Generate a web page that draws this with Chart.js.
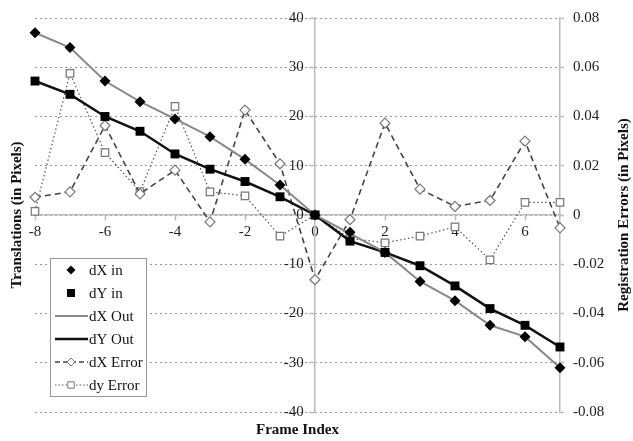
<!DOCTYPE html>
<html lang="en">
<head>
<meta charset="UTF-8">
<title>Translations and Registration Errors</title>
<script src="https://cdn.jsdelivr.net/npm/chart.js"></script>
<style>
  html, body { margin: 0; padding: 0; background: #fff; }
  canvas { display: block; }
</style>
</head>
<body>
<canvas id="chart" width="633" height="441"></canvas>
<script>
// frame indices
const frames = [-8, -7, -6, -5, -4, -3, -2, -1, 0, 1, 2, 3, 4, 5, 6, 7];

// translations (pixels), left axis
const dxIn  = [37.0, 34.0, 27.2, 23.0, 19.5, 15.9, 11.3, 6.1, 0, -3.5, -7.6, -13.5, -17.4, -22.4, -24.7, -31.0];
const dyIn  = [27.2, 24.5, 20.0, 17.0, 12.4, 9.3, 6.8, 3.7, 0, -5.3, -7.6, -10.3, -14.4, -19.0, -22.4, -26.8];
const dxOut = [37.0, 34.0, 27.2, 23.0, 19.5, 15.9, 11.3, 6.1, 0, -3.8, -7.6, -13.5, -17.4, -22.4, -24.7, -31.0];
const dyOut = [27.2, 24.5, 20.0, 17.0, 12.4, 9.3, 6.8, 3.7, 0, -5.3, -7.6, -10.3, -14.4, -19.0, -22.4, -26.8];

// registration errors (pixels), right axis
const dxErr = [0.0072, 0.0094, 0.0363, 0.0086, 0.0182, -0.0028, 0.0426, 0.0208, -0.0263, -0.0019, 0.0373, 0.0105, 0.0035, 0.0059, 0.0300, -0.0052];
const dyErr = [0.0015, 0.0575, 0.0253, 0.0095, 0.0441, 0.0094, 0.0078, -0.0086, 0, -0.0095, -0.0113, -0.0086, -0.0048, -0.0182, 0.0051, 0.0051];

const serif = "'Liberation Serif', 'Times New Roman', serif";
Chart.defaults.font.family = serif;
Chart.defaults.color = '#222';

const pts = arr => arr.map((v, i) => ({ x: frames[i], y: v }));

// legend drawn inside the plot, lower left
const legendItems = [
  { label: 'dX in',    marker: 'diamondFill' },
  { label: 'dY in',    marker: 'squareFill' },
  { label: 'dX Out',   line: '#888', width: 2, dash: [] },
  { label: 'dY Out',   line: '#111', width: 2.5, dash: [] },
  { label: 'dX Error', line: '#444', width: 1.5, dash: [5, 3], marker: 'diamondOpen' },
  { label: 'dy Error', line: '#555', width: 1.2, dash: [1.5, 2], marker: 'squareOpen' }
];

const insideLegend = {
  id: 'insideLegend',
  afterDraw(chart) {
    const ctx = chart.ctx;
    ctx.save();
    ctx.fillStyle = '#fff';
    ctx.fillRect(50, 258, 97, 139);
    ctx.strokeStyle = '#999';
    ctx.lineWidth = 1;
    ctx.strokeRect(50.5, 258.5, 96, 138);
    legendItems.forEach((it, i) => {
      const cy = 270 + i * 23;
      if (it.line) {
        ctx.beginPath();
        ctx.setLineDash(it.dash);
        ctx.strokeStyle = it.line;
        ctx.lineWidth = it.width;
        ctx.moveTo(55, cy);
        ctx.lineTo(88, cy);
        ctx.stroke();
        ctx.setLineDash([]);
      }
      if (it.marker) {
        ctx.beginPath();
        const open = it.marker.endsWith('Open');
        if (it.marker.startsWith('diamond')) {
          const r = open ? 4 : 4.5;
          ctx.moveTo(71, cy - r); ctx.lineTo(71 + r, cy); ctx.lineTo(71, cy + r); ctx.lineTo(71 - r, cy); ctx.closePath();
        } else {
          const s = open ? 3.2 : 4;
          ctx.rect(71 - s, cy - s, 2 * s, 2 * s);
        }
        if (open) {
          ctx.fillStyle = '#fff'; ctx.fill();
          ctx.strokeStyle = '#777'; ctx.lineWidth = 1; ctx.stroke();
        } else {
          ctx.fillStyle = '#000'; ctx.fill();
        }
      }
      ctx.fillStyle = '#111';
      ctx.font = '15px ' + serif;
      ctx.textAlign = 'left';
      ctx.textBaseline = 'middle';
      ctx.fillText(it.label, 89, cy + 1);
    });
    ctx.restore();
  }
};

// right axis title reads bottom-to-top, so draw it by hand
const rightTitle = {
  id: 'rightTitle',
  afterDraw(chart) {
    const ctx = chart.ctx;
    const a = chart.chartArea;
    ctx.save();
    ctx.translate(624, (a.top + a.bottom) / 2);
    ctx.rotate(-Math.PI / 2);
    ctx.font = 'bold 15px ' + serif;
    ctx.fillStyle = '#111';
    ctx.textAlign = 'center';
    ctx.textBaseline = 'middle';
    ctx.fillText('Registration Errors (in Pixels)', 0, 0);
    ctx.restore();
  }
};

const titleFont = { family: serif, size: 15, weight: 'bold' };

new Chart(document.getElementById('chart'), {
  type: 'scatter',
  data: {
    datasets: [
      {
        label: 'dX in', data: pts(dxIn), yAxisID: 'y', showLine: false, clip: false,
        pointStyle: 'rectRot', pointRadius: 5.5, pointHoverRadius: 5.5,
        backgroundColor: '#000', borderColor: '#000', borderWidth: 0
      },
      {
        label: 'dY in', data: pts(dyIn), yAxisID: 'y', showLine: false, clip: false,
        pointStyle: 'rect', pointRadius: 6.3, pointHoverRadius: 6.3,
        backgroundColor: '#000', borderColor: '#000', borderWidth: 0
      },
      {
        label: 'dX Out', data: pts(dxOut), yAxisID: 'y', showLine: true, clip: false,
        pointRadius: 0, borderColor: '#888', borderWidth: 2, tension: 0
      },
      {
        label: 'dY Out', data: pts(dyOut), yAxisID: 'y', showLine: true, clip: false,
        pointRadius: 0, borderColor: '#111', borderWidth: 2.5, tension: 0
      },
      {
        label: 'dX Error', data: pts(dxErr), yAxisID: 'y2', showLine: true, clip: false,
        borderColor: '#444', borderWidth: 1.6, borderDash: [6, 4], tension: 0,
        pointStyle: 'rectRot', pointRadius: 5, pointHoverRadius: 5,
        pointBackgroundColor: '#fff', pointBorderColor: '#777', pointBorderWidth: 1.2
      },
      {
        label: 'dy Error', data: pts(dyErr), yAxisID: 'y2', showLine: true, clip: false,
        borderColor: '#555', borderWidth: 1.2, borderDash: [1.5, 2.5], tension: 0,
        pointStyle: 'rect', pointRadius: 5.3, pointHoverRadius: 5.3,
        pointBackgroundColor: '#fff', pointBorderColor: '#777', pointBorderWidth: 1.2
      }
    ]
  },
  options: {
    responsive: false,
    animation: false,
    layout: { padding: { top: 14, left: 0, right: 0, bottom: 0 } },
    plugins: {
      legend: { display: false },
      tooltip: { enabled: false }
    },
    scales: {
      x: {
        type: 'linear',
        position: { y: 0 },
        min: -8, max: 7,
        ticks: { stepSize: 2, includeBounds: false, padding: 3, font: { size: 15 }, color: '#222' },
        grid: { drawOnChartArea: false, tickLength: 5, tickColor: '#bbb', tickWidth: 1.5 },
        border: { color: '#bbb', width: 1.5 }
      },
      xTitle: {
        type: 'linear',
        position: 'bottom',
        min: -8, max: 7,
        ticks: { display: false },
        grid: { display: false, drawTicks: false },
        border: { display: false },
        title: { display: true, text: 'Frame Index', font: titleFont, color: '#111', padding: { top: 8, bottom: 2 } },
        afterFit: s => { s.height = 29; }
      },
      y: {
        type: 'linear',
        position: { x: 0 },
        min: -40, max: 40,
        ticks: { stepSize: 10, font: { size: 15 }, color: '#222', callback: v => v + '   ' },
        grid: { color: '#999', lineWidth: 1, tickLength: 5, tickColor: '#bbb', tickWidth: 1.5 },
        border: { color: '#bbb', width: 1.5, dash: [2, 3] }
      },
      yTitle: {
        type: 'linear',
        position: 'left',
        min: -40, max: 40,
        ticks: { display: false },
        grid: { display: false, drawTicks: false },
        border: { display: false },
        title: { display: true, text: 'Translations (in Pixels)', font: titleFont, color: '#111', padding: { top: 8, bottom: 8 } },
        afterFit: s => { s.width = 35; }
      },
      y2: {
        type: 'linear',
        position: 'right',
        min: -0.08, max: 0.08,
        ticks: {
          stepSize: 0.02, padding: 9, font: { size: 15 }, color: '#222',
          callback: v => Math.abs(v) < 1e-9 ? '0' : v.toFixed(2)
        },
        grid: { drawOnChartArea: false, tickLength: 4, tickColor: '#bbb', tickWidth: 1.5 },
        border: { color: '#bbb', width: 1.5 },
        afterFit: s => { s.width = 73; }
      }
    }
  },
  plugins: [insideLegend, rightTitle]
});
</script>
</body>
</html>
